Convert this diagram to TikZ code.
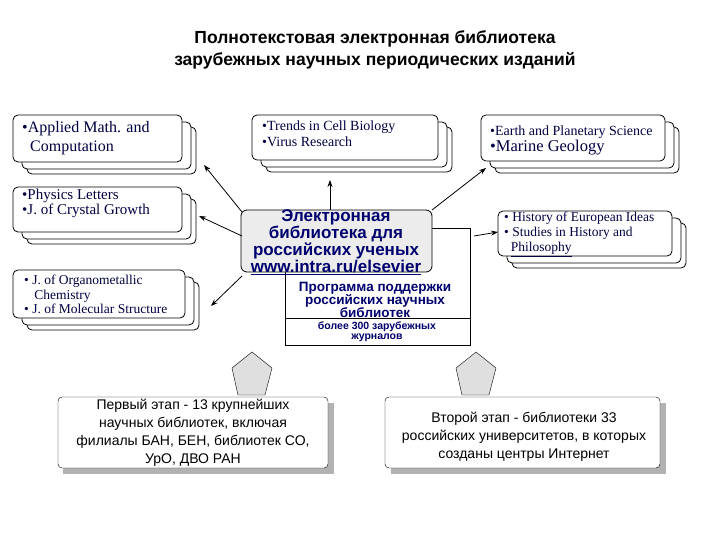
\documentclass[tikz,border=0pt]{standalone}
\usepackage{fontspec}
\setmainfont{Liberation Serif}
\newfontfamily\sansf{Liberation Sans}
\usetikzlibrary{arrows.meta}
\definecolor{navy}{RGB}{0,0,110}
\tikzset{
 card/.style={draw,thick,rounded corners=5pt,fill=white},
 arr/.style={thick,-{Stealth[length=7pt,width=5pt]}},
 jt/.style={align=left,anchor=north west,font=\fontsize{14}{16}\selectfont,text=navy!60!black,inner sep=0pt},
 blk/.style={draw,fill=gray!25,thin}
}
\newcommand{\stack}[5]{%
 \draw[card] ({#1+14},{#2+12}) rectangle ({#3+14},{#4+12});
 \draw[card] ({#1+9},{#2+7}) rectangle ({#3+9},{#4+7});
 \draw[card] (#1,#2) rectangle (#3,#4);
 \node[coordinate] (#5) at ({(#1+#3)/2},{(#2+#4)/2}) {};}
\begin{document}
\begin{tikzpicture}[x=1pt,y=-1pt]
\useasboundingbox (0,0) rectangle (720,540);
\node[font=\sansf\bfseries\fontsize{17.5}{22}\selectfont,align=center] (title) at (375,50) {Полнотекстовая электронная библиотека\\зарубежных научных периодических изданий};
% journal stacks
\stack{13}{115}{182}{162}{b1}
\node[jt,font=\fontsize{16}{19}\selectfont] (t1) at (22,121) {•Applied Math. and\\\ \ Computation};
\stack{13}{187}{182}{232}{b2}
\node[jt,font=\fontsize{15}{15}\selectfont] (t2) at (22,189) {•Physics Letters\\•J. of Crystal Growth};
\stack{13}{270}{185}{318}{b3}
\node[jt,font=\fontsize{13.5}{14.5}\selectfont] (t3) at (24,275) {• J. of Organometallic\\\ \ \ Chemistry\\• J. of Molecular Structure};
\stack{252}{115}{438}{160}{b4}
\node[jt] (t4) at (262,121) {•Trends in Cell Biology\\•Virus Research};
\stack{481}{115}{665}{161}{b5}
\node[jt] (t5) at (490,126) {•Earth and Planetary Science\\[0pt]{\fontsize{16.5}{16}\selectfont •Marine Geology}};
\stack{498}{211}{672}{256}{b6}
\node[jt,font=\fontsize{13.5}{15}\selectfont] (t6) at (504,212) {• History of European Ideas\\• Studies in History and\\\ \ \underline{Philosophy}};
% centre
\draw[fill=white] (285,228) rectangle (470,318);
\draw[fill=white] (285,318) rectangle (470,345);
\node[font=\sansf\bfseries\fontsize{13.5}{13}\selectfont,text=navy,align=center] (prog) at (375,300) {Программа поддержки\\российских научных\\библиотек};
\node[font=\sansf\bfseries\fontsize{10.5}{10}\selectfont,text=navy,align=center] (more) at (377,332) {более 300 зарубежных\\журналов};
\draw[rounded corners=6pt,fill=gray!15,thick] (241,210) rectangle (432,272);
\node[font=\sansf\bfseries\fontsize{17}{15.5}\selectfont,text=navy,align=center] (el) at (336,242) {Электронная\\библиотека для\\российских ученых\\\underline{www.intra.ru/elsevier}};
\coordinate (c1) at (242,212);
\coordinate (c2) at (242,236);
\coordinate (c3) at (242,276);
\coordinate (c4) at (330,210);
\coordinate (c5) at (432,210);
\coordinate (c6) at (474,236);
\coordinate (e1) at (204,165);
\coordinate (e2) at (199,216);
\coordinate (e3) at (211,306);
\coordinate (e4) at (330,180);
\coordinate (e5) at (486,168);
\coordinate (e6) at (498,232);
\foreach \i in {1,...,6}{\draw[arr] (c\i) -- (e\i);}
% block arrows
\draw[blk] (252,352) -- (272,368) -- (265,395) -- (238,395) -- (232,368) -- cycle;
\draw[blk] (476,352) -- (496,368) -- (489,395) -- (462,395) -- (456,368) -- cycle;
% bottom boxes
\fill[gray!60] (63,403) rectangle (334,474);
\draw[fill=white,rounded corners=4pt] (58,397) rectangle (328,468);
\node[font=\sansf\fontsize{14}{18}\selectfont,align=center] (s1) at (193,433) {Первый этап - 13 крупнейших\\научных библиотек, включая\\филиалы БАН, БЕН, библиотек СО,\\УрО, ДВО РАН};
\fill[gray!60] (391,403) rectangle (666,474);
\draw[fill=white,rounded corners=4pt] (385,397) rectangle (660,468);
\node[font=\sansf\fontsize{14}{18}\selectfont,align=center] (s2) at (524,437) {Второй этап - библиотеки 33\\российских университетов, в которых\\созданы центры Интернет};
\end{tikzpicture}
\end{document}
